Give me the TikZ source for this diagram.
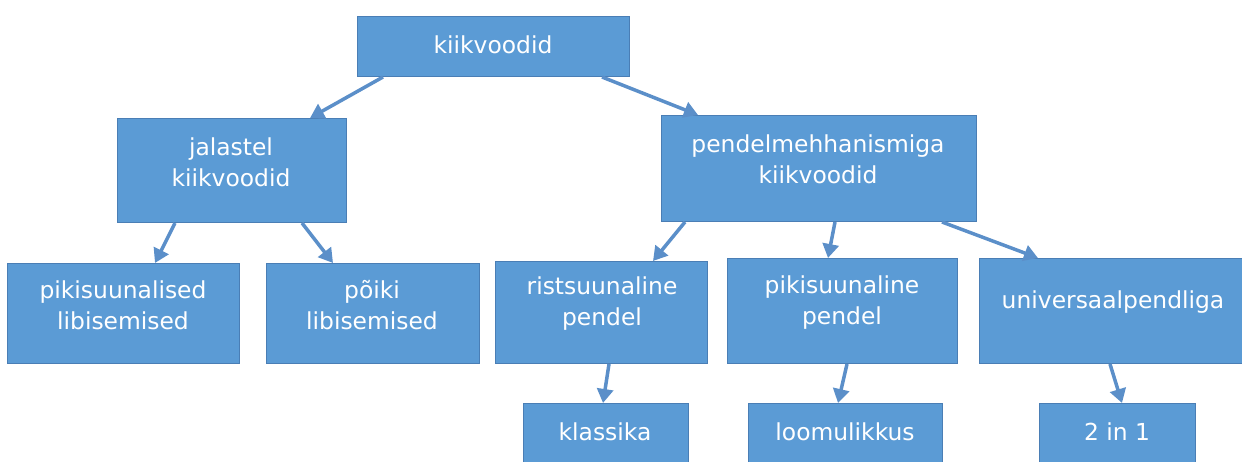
\documentclass[tikz,border=0pt]{standalone}
\usepackage{fontspec}
\setmainfont{DejaVu Sans}
\usetikzlibrary{arrows.meta,calc}
\definecolor{boxfill}{HTML}{5B9BD5}
\definecolor{boxline}{HTML}{4A7EB5}
\definecolor{arrcol}{HTML}{5B8FC9}
\tikzset{
  box/.style={rectangle, fill=boxfill, draw=boxline, line width=1pt, inner sep=0pt},
  txt/.style={text=white, align=center, inner sep=0pt, font=\fontsize{23.4}{31}\selectfont},
  arr/.style={draw=arrcol, line width=3.5pt, -{Triangle[length=14pt,width=16pt]}}
}
\begin{document}
\begin{tikzpicture}[x=1pt,y=-1pt]
\useasboundingbox (0,0) rectangle (1242,461);
\clip (0,0) rectangle (1242,461);
% boxes
\node[box, minimum width=272, minimum height=60, anchor=north west] (top) at (357,16) {};
\node[box, minimum width=229, minimum height=104, anchor=north west] (jal) at (117,118) {};
\node[box, minimum width=315, minimum height=106, anchor=north west] (pen) at (661,115) {};
\node[box, minimum width=232, minimum height=100, anchor=north west] (pks) at (7,263) {};
\node[box, minimum width=213, minimum height=100, anchor=north west] (poi) at (266,263) {};
\node[box, minimum width=212, minimum height=102, anchor=north west] (ris) at (495,261) {};
\node[box, minimum width=230, minimum height=105, anchor=north west] (pkl) at (727,258) {};
\node[box, minimum width=275, minimum height=105, anchor=north west] (uni) at (979,258) {};
\node[box, minimum width=165, minimum height=70, anchor=north west] (kla) at (523,403) {};
\node[box, minimum width=194, minimum height=70, anchor=north west] (loo) at (748,403) {};
\node[box, minimum width=156, minimum height=70, anchor=north west] (two) at (1039,403) {};
% texts
\node[txt] (top-t) at (493,45) {kiikvoodid};
\node[txt] (jal-t) at (231,162) {jalastel\\kiikvoodid};
\node[txt] (pen-t) at (818,159) {pendelmehhanismiga\\kiikvoodid};
\node[txt] (pks-t) at (123,305) {pikisuunalised\\libisemised};
\node[txt] (poi-t) at (372,305) {põiki\\libisemised};
\node[txt] (ris-t) at (602,304) {ristsuunaline\\pendel};
\node[txt] (pkl-t) at (842,303) {pikisuunaline\\pendel};
\node[txt] (uni-t) at (1113,302) {universaalpendliga};
\node[txt] (kla-t) at (605,432) {klassika};
\node[txt] (loo-t) at (845,432) {loomulikkus};
\node[txt] (two-t) at (1117,432) {2 in 1};
% connectors
\draw[arr] ([xshift=26]top.south west) -- ([xshift=193]jal.north west);
\draw[arr] ([xshift=245]top.south west) -- ([xshift=37]pen.north west);
\draw[arr] ([xshift=58]jal.south west) -- ([xshift=148]pks.north west);
\draw[arr] ([xshift=185]jal.south west) -- ([xshift=67]poi.north west);
\draw[arr] ([xshift=24]pen.south west) -- ([xshift=158]ris.north west);
\draw[arr] ([xshift=174]pen.south west) -- ([xshift=101]pkl.north west);
\draw[arr] ([xshift=281]pen.south west) -- ([xshift=59]uni.north west);
\draw[arr] ([xshift=114]ris.south west) -- ([xshift=80]kla.north west);
\draw[arr] ([xshift=120]pkl.south west) -- ([xshift=90]loo.north west);
\draw[arr] ([xshift=131]uni.south west) -- ([xshift=83]two.north west);
\end{tikzpicture}
\end{document}
